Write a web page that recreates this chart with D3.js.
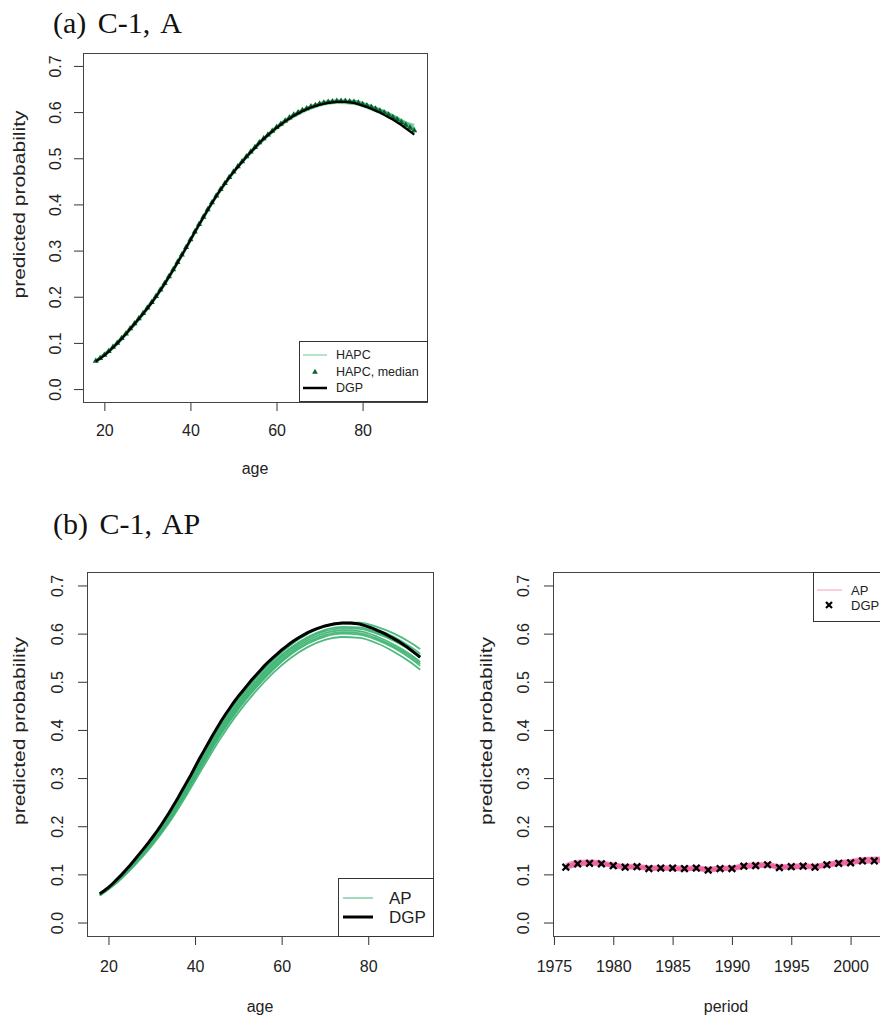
<!DOCTYPE html>
<html>
<head>
<meta charset="utf-8">
<script src="https://cdn.jsdelivr.net/npm/d3@7"></script>
<style>
  body { margin: 0; background: #fff; }
  svg text { font-family: "Liberation Sans", Arial, sans-serif; fill: #222; }
</style>
</head>
<body>
<svg id="fig" width="880" height="1021"></svg>
<script>
// ---- data ----
const ages = d3.range(18, 93);
const ageKnots = [18, 22, 26, 30, 34, 38, 42, 46, 50, 54, 58, 62, 66, 70, 74, 78, 82, 86, 90, 92];
const periods = [1976, 1977, 1978, 1979, 1980, 1981, 1982, 1983, 1984, 1985, 1986, 1987, 1988, 1989,
  1990, 1991, 1992, 1993, 1994, 1995, 1996, 1997, 1998, 1999, 2000, 2001, 2002, 2003];

const ageTicks = [20, 40, 60, 80];
const periodTicks = [1975, 1980, 1985, 1990, 1995, 2000];
const probTicks = [0, 0.1, 0.2, 0.3, 0.4, 0.5, 0.6, 0.7];

// true age curve (DGP), one value per age 18..92
const dgpAge = [0.060, 0.066, 0.073, 0.081, 0.090, 0.099, 0.109, 0.119, 0.130, 0.141, 0.152, 0.163, 0.175,
  0.187, 0.200, 0.214, 0.228, 0.243, 0.258, 0.274, 0.290, 0.306, 0.323, 0.340, 0.356, 0.372, 0.388, 0.403,
  0.418, 0.432, 0.445, 0.458, 0.470, 0.481, 0.492, 0.503, 0.513, 0.523, 0.533, 0.542, 0.550, 0.558, 0.566,
  0.573, 0.580, 0.586, 0.592, 0.597, 0.602, 0.606, 0.610, 0.613, 0.616, 0.618, 0.620, 0.621, 0.622, 0.622,
  0.622, 0.621, 0.620, 0.617, 0.614, 0.611, 0.607, 0.603, 0.599, 0.594, 0.589, 0.584, 0.578, 0.572, 0.565,
  0.558, 0.551];

// HAPC median, one value per age 18..92
const hapcMedian = [0.061, 0.067, 0.074, 0.082, 0.091, 0.100, 0.110, 0.120, 0.131, 0.142, 0.153, 0.164, 0.176,
  0.188, 0.201, 0.215, 0.229, 0.244, 0.259, 0.275, 0.291, 0.307, 0.324, 0.341, 0.357, 0.373, 0.389, 0.404,
  0.419, 0.433, 0.446, 0.459, 0.471, 0.482, 0.493, 0.504, 0.514, 0.524, 0.534, 0.543, 0.551, 0.559, 0.567,
  0.574, 0.581, 0.588, 0.594, 0.599, 0.604, 0.608, 0.612, 0.615, 0.618, 0.620, 0.622, 0.623, 0.624, 0.624,
  0.624, 0.623, 0.622, 0.620, 0.617, 0.614, 0.611, 0.607, 0.603, 0.599, 0.594, 0.589, 0.584, 0.578, 0.572,
  0.566, 0.560];

// HAPC replicates at the age knots
const hapcRuns = [
  [0.061, 0.091, 0.131, 0.176, 0.229, 0.291, 0.357, 0.419, 0.471, 0.515, 0.552, 0.583, 0.605, 0.619, 0.625, 0.624, 0.613, 0.598, 0.578, 0.566],
  [0.059, 0.089, 0.129, 0.174, 0.227, 0.289, 0.355, 0.417, 0.469, 0.512, 0.549, 0.579, 0.601, 0.615, 0.621, 0.619, 0.608, 0.592, 0.570, 0.558],
  [0.062, 0.092, 0.132, 0.177, 0.230, 0.292, 0.357, 0.419, 0.471, 0.514, 0.551, 0.581, 0.604, 0.618, 0.624, 0.623, 0.612, 0.596, 0.575, 0.563],
  [0.060, 0.090, 0.130, 0.175, 0.228, 0.290, 0.356, 0.418, 0.470, 0.513, 0.550, 0.580, 0.602, 0.617, 0.623, 0.621, 0.610, 0.594, 0.572, 0.560],
  [0.058, 0.088, 0.128, 0.173, 0.226, 0.288, 0.354, 0.416, 0.468, 0.511, 0.548, 0.578, 0.600, 0.614, 0.620, 0.618, 0.606, 0.590, 0.568, 0.555],
  [0.061, 0.091, 0.131, 0.176, 0.229, 0.291, 0.356, 0.418, 0.470, 0.514, 0.551, 0.582, 0.604, 0.618, 0.624, 0.622, 0.611, 0.597, 0.577, 0.572]
];

// AP replicates (age effect) at the age knots
const apAgeRuns = [
  [0.059, 0.089, 0.128, 0.173, 0.225, 0.286, 0.351, 0.413, 0.465, 0.509, 0.546, 0.577, 0.600, 0.615, 0.621, 0.620, 0.609, 0.593, 0.571, 0.558],
  [0.058, 0.087, 0.125, 0.169, 0.220, 0.280, 0.344, 0.405, 0.457, 0.501, 0.539, 0.570, 0.593, 0.608, 0.614, 0.613, 0.602, 0.586, 0.564, 0.551],
  [0.057, 0.086, 0.123, 0.166, 0.216, 0.275, 0.338, 0.398, 0.450, 0.494, 0.532, 0.563, 0.586, 0.601, 0.607, 0.605, 0.594, 0.577, 0.555, 0.541],
  [0.056, 0.084, 0.120, 0.162, 0.211, 0.269, 0.331, 0.391, 0.443, 0.487, 0.525, 0.556, 0.579, 0.594, 0.600, 0.598, 0.587, 0.570, 0.547, 0.533],
  [0.056, 0.083, 0.118, 0.159, 0.207, 0.264, 0.325, 0.384, 0.436, 0.480, 0.518, 0.549, 0.572, 0.587, 0.593, 0.591, 0.580, 0.562, 0.539, 0.525],
  [0.058, 0.088, 0.127, 0.171, 0.223, 0.283, 0.347, 0.409, 0.461, 0.506, 0.544, 0.576, 0.600, 0.616, 0.623, 0.623, 0.614, 0.600, 0.580, 0.568],
  [0.057, 0.085, 0.122, 0.164, 0.213, 0.272, 0.334, 0.394, 0.446, 0.490, 0.528, 0.559, 0.582, 0.597, 0.603, 0.601, 0.590, 0.573, 0.551, 0.537],
  [0.058, 0.086, 0.124, 0.167, 0.218, 0.277, 0.341, 0.402, 0.454, 0.498, 0.536, 0.567, 0.590, 0.605, 0.611, 0.610, 0.600, 0.585, 0.565, 0.553]
];

// true period curve (DGP), one value per period
const dgpPeriod = [0.115, 0.122, 0.123, 0.122, 0.118, 0.115, 0.116, 0.112, 0.113, 0.113, 0.112, 0.113, 0.109, 0.112,
  0.112, 0.117, 0.118, 0.120, 0.114, 0.116, 0.117, 0.115, 0.120, 0.123, 0.124, 0.128, 0.128, 0.130];

// AP replicates (period effect)
const apPeriodRuns = [
  [0.118, 0.124, 0.126, 0.124, 0.120, 0.117, 0.117, 0.114, 0.115, 0.114, 0.113, 0.115, 0.112, 0.114, 0.115, 0.119, 0.120, 0.121, 0.117, 0.118, 0.119, 0.118, 0.122, 0.126, 0.127, 0.131, 0.133, 0.132],
  [0.112, 0.119, 0.121, 0.120, 0.116, 0.113, 0.113, 0.110, 0.111, 0.110, 0.109, 0.111, 0.107, 0.110, 0.110, 0.114, 0.116, 0.117, 0.112, 0.113, 0.114, 0.113, 0.117, 0.120, 0.122, 0.125, 0.126, 0.127],
  [0.116, 0.123, 0.124, 0.122, 0.119, 0.116, 0.116, 0.113, 0.112, 0.112, 0.111, 0.112, 0.110, 0.111, 0.113, 0.116, 0.117, 0.119, 0.115, 0.115, 0.116, 0.114, 0.119, 0.122, 0.125, 0.128, 0.129, 0.131],
  [0.120, 0.127, 0.128, 0.126, 0.122, 0.119, 0.119, 0.116, 0.116, 0.116, 0.115, 0.116, 0.113, 0.115, 0.116, 0.120, 0.122, 0.123, 0.118, 0.119, 0.120, 0.119, 0.123, 0.127, 0.129, 0.133, 0.134, 0.134],
  [0.113, 0.120, 0.122, 0.121, 0.117, 0.114, 0.114, 0.111, 0.110, 0.111, 0.110, 0.110, 0.108, 0.109, 0.111, 0.115, 0.116, 0.118, 0.113, 0.114, 0.115, 0.115, 0.118, 0.121, 0.123, 0.126, 0.127, 0.128]
];

// ---- drawing ----
const svg = d3.select('#fig');
const probDomain = [-0.028, 0.728];
const GREEN_A = 'rgba(60,179,113,0.6)';
const GREEN_B = 'rgba(60,179,113,0.9)';
const PINK = 'rgba(240,90,155,0.6)';

function panel(p) {
  const x = d3.scaleLinear().domain(p.xDomain).range([p.left, p.left + p.width]);
  const y = d3.scaleLinear().domain(probDomain).range([p.top + p.height, p.top]);
  const bottom = p.top + p.height;

  const xa = svg.append('g')
      .attr('transform', 'translate(0,' + bottom + ')')
      .call(d3.axisBottom(x).tickValues(p.xTicks).tickSize(9).tickFormat(d3.format('d')));
  xa.select('.domain').remove();
  xa.selectAll('.tick line').attr('stroke', '#333');
  xa.selectAll('.tick text')
      .attr('dy', null).attr('y', p.xLabelDy)
      .attr('fill', '#222').style('font-size', '16px');

  const ya = svg.append('g')
      .attr('transform', 'translate(' + p.left + ',0)')
      .call(d3.axisLeft(y).tickValues(probTicks).tickSize(9).tickFormat(d3.format('.1f')));
  ya.select('.domain').remove();
  ya.selectAll('.tick line').attr('stroke', '#333');
  ya.selectAll('.tick text')
      .attr('x', null).attr('dy', null)
      .attr('text-anchor', 'middle')
      .attr('fill', '#222').style('font-size', '16px')
      .attr('transform', 'translate(' + (p.yLabelX - p.left) + ',0) rotate(-90)');

  svg.append('text')
      .attr('x', p.left + p.width / 2).attr('y', bottom + p.xTitleDy)
      .attr('text-anchor', 'middle').style('font-size', '16px')
      .text(p.xTitle);
  // y title: starts where an R-centred label would start, drawn a bit wider
  svg.append('text')
      .attr('transform', 'translate(' + p.yTitleX + ',' + (p.top + p.height / 2 + 71) + ') rotate(-90)')
      .attr('text-anchor', 'start').style('font-size', '16px')
      .attr('textLength', 188).attr('lengthAdjust', 'spacingAndGlyphs')
      .text('predicted probability');

  const clipId = 'clip' + p.id;
  svg.append('clipPath').attr('id', clipId)
    .append('rect').attr('x', p.left).attr('y', p.top).attr('width', p.width).attr('height', p.height);
  const g = svg.append('g').attr('clip-path', 'url(#' + clipId + ')');

  svg.append('rect')
      .attr('x', p.left + 0.5).attr('y', p.top + 0.5)
      .attr('width', p.width).attr('height', p.height)
      .attr('fill', 'none').attr('stroke', '#444');

  return {x, y, g};
}

function legendBox(x0, y0, x1, y1) {
  svg.append('rect')
      .attr('x', x0 + 0.5).attr('y', y0 + 0.5)
      .attr('width', x1 - x0).attr('height', y1 - y0)
      .attr('fill', '#fff').attr('stroke', '#333');
}

function crossPath(r) {
  return 'M' + (-r) + ',' + (-r) + 'L' + r + ',' + r + 'M' + (-r) + ',' + r + 'L' + r + ',' + (-r);
}

// titles
[['(a) C-1, A', 33], ['(b) C-1, AP', 534]].forEach(([t, yy]) => {
  svg.append('text').attr('x', 53).attr('y', yy)
      .style('font-family', '"Liberation Serif", "Times New Roman", serif')
      .style('font-size', '30px').style('word-spacing', '4px')
      .style('fill', '#111').text(t);
});

// (a) HAPC age effect
const pa = panel({id: 'a', left: 83, top: 53, width: 344, height: 349,
  xDomain: [15.04, 94.96], xTicks: ageTicks, xTitle: 'age',
  xLabelDy: 34, xTitleDy: 72, yLabelX: 61, yTitleX: 25});

const knotLineA = d3.line().curve(d3.curveMonotoneX)
    .x((d, i) => pa.x(ageKnots[i])).y(d => pa.y(d));
pa.g.selectAll('.hapc').data(hapcRuns).enter().append('path')
    .attr('d', knotLineA).attr('fill', 'none')
    .attr('stroke', GREEN_A).attr('stroke-width', 2.4);
pa.g.selectAll('.med').data(hapcMedian).enter().append('path')
    .attr('d', d3.symbol(d3.symbolTriangle, 16))
    .attr('transform', (d, i) => 'translate(' + pa.x(ages[i]) + ',' + pa.y(d) + ')')
    .attr('fill', '#0a5f2c');
pa.g.append('path')
    .attr('d', d3.line().x((d, i) => pa.x(ages[i])).y(d => pa.y(d))(dgpAge))
    .attr('fill', 'none').attr('stroke', '#000').attr('stroke-width', 2.2);

legendBox(299, 341, 427, 401);
svg.append('line').attr('x1', 303).attr('x2', 327).attr('y1', 355).attr('y2', 355)
    .attr('stroke', GREEN_A).attr('stroke-width', 1.2);
svg.append('path').attr('d', d3.symbol(d3.symbolTriangle, 14))
    .attr('transform', 'translate(315,372)').attr('fill', '#0a5f2c');
svg.append('line').attr('x1', 303).attr('x2', 327).attr('y1', 388).attr('y2', 388)
    .attr('stroke', '#000').attr('stroke-width', 2.5);
[['HAPC', 355], ['HAPC, median', 372], ['DGP', 388]].forEach(([t, yy]) => {
  svg.append('text').attr('x', 336).attr('y', yy).attr('dy', '0.35em')
      .style('font-size', '12.5px').text(t);
});

// (b) AP age effect
const pb = panel({id: 'b', left: 87, top: 572, width: 346, height: 364,
  xDomain: [15.04, 94.96], xTicks: ageTicks, xTitle: 'age',
  xLabelDy: 36, xTitleDy: 76, yLabelX: 63, yTitleX: 25});

const knotLineB = d3.line().curve(d3.curveMonotoneX)
    .x((d, i) => pb.x(ageKnots[i])).y(d => pb.y(d));
pb.g.selectAll('.apa').data(apAgeRuns).enter().append('path')
    .attr('d', knotLineB).attr('fill', 'none')
    .attr('stroke', GREEN_B).attr('stroke-width', 1.8);
pb.g.append('path')
    .attr('d', d3.line().x((d, i) => pb.x(ages[i])).y(d => pb.y(d))(dgpAge))
    .attr('fill', 'none').attr('stroke', '#000').attr('stroke-width', 3);

legendBox(338, 878, 433, 936);
svg.append('line').attr('x1', 343).attr('x2', 373).attr('y1', 898).attr('y2', 898)
    .attr('stroke', 'rgba(60,179,113,0.8)').attr('stroke-width', 1.2);
svg.append('line').attr('x1', 343).attr('x2', 373).attr('y1', 917).attr('y2', 917)
    .attr('stroke', '#000').attr('stroke-width', 3);
[['AP', 898], ['DGP', 917]].forEach(([t, yy]) => {
  svg.append('text').attr('x', 389).attr('y', yy).attr('dy', '0.35em')
      .style('font-size', '17px').text(t);
});

// (b) AP period effect
const pc = panel({id: 'c', left: 553, top: 572, width: 346, height: 364,
  xDomain: [1974.92, 2004.08], xTicks: periodTicks, xTitle: 'period',
  xLabelDy: 36, xTitleDy: 76, yLabelX: 529, yTitleX: 492});

const periodLine = d3.line().curve(d3.curveMonotoneX)
    .x((d, i) => pc.x(periods[i])).y(d => pc.y(d));
pc.g.selectAll('.app').data(apPeriodRuns).enter().append('path')
    .attr('d', periodLine).attr('fill', 'none')
    .attr('stroke', PINK).attr('stroke-width', 3);
pc.g.selectAll('.dgpx').data(dgpPeriod).enter().append('path')
    .attr('d', crossPath(3.3))
    .attr('transform', (d, i) => 'translate(' + pc.x(periods[i]) + ',' + pc.y(d) + ')')
    .attr('stroke', '#000').attr('stroke-width', 2.3).attr('fill', 'none');

legendBox(813, 572, 899, 621);
svg.append('line').attr('x1', 817).attr('x2', 842).attr('y1', 590).attr('y2', 590)
    .attr('stroke', 'rgba(240,90,155,0.5)').attr('stroke-width', 1.2);
svg.append('path').attr('d', crossPath(3))
    .attr('transform', 'translate(829,605)')
    .attr('stroke', '#000').attr('stroke-width', 2.2).attr('fill', 'none');
[['AP', 590], ['DGP', 605]].forEach(([t, yy]) => {
  svg.append('text').attr('x', 851).attr('y', yy).attr('dy', '0.35em')
      .style('font-size', '13px').text(t);
});
</script>
</body>
</html>
